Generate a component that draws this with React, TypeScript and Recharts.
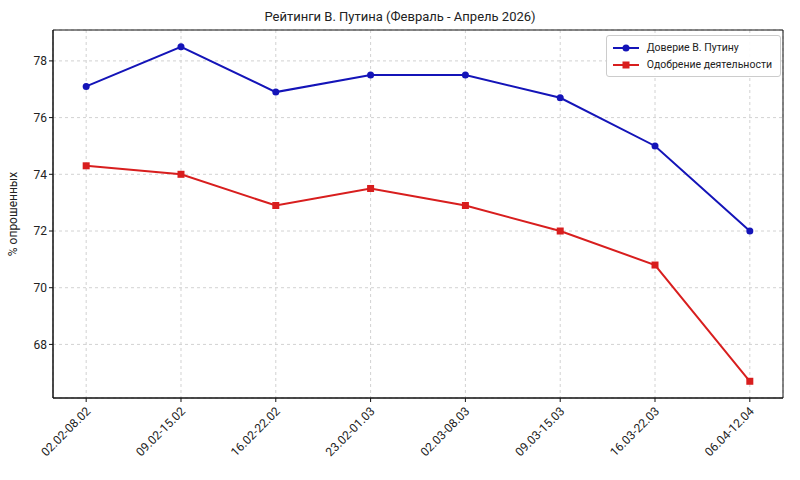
import {
  CartesianGrid,
  Line,
  LineChart,
  ReferenceArea,
  XAxis,
  YAxis,
} from "recharts";

const periods = [
  "02.02-08.02",
  "09.02-15.02",
  "16.02-22.02",
  "23.02-01.03",
  "02.03-08.03",
  "09.03-15.03",
  "16.03-22.03",
  "06.04-12.04",
];
const trust = [77.1, 78.5, 76.9, 77.5, 77.5, 76.7, 75.0, 72.0];
const approval = [74.3, 74.0, 72.9, 73.5, 72.9, 72.0, 70.8, 66.7];
const yTicks = [68, 70, 72, 74, 76, 78];

const BLUE = "#1414b8";
const RED = "#d81e1e";
const FONT = "Roboto, 'Open Sans', sans-serif";
const X_DOMAIN: [number, number] = [-0.35, 7.35];
const Y_DOMAIN: [number, number] = [66.11, 79.09];

const data = periods.map((p, i) => ({
  i,
  period: p,
  trust: trust[i],
  approval: approval[i],
}));

function XTick(props: any) {
  const { x, y, payload } = props;
  return (
    <text
      x={x + 5}
      y={y + 8}
      textAnchor="end"
      fontSize={12}
      fill="#222"
      fontFamily={FONT}
      transform={`rotate(-45 ${x + 5} ${y + 8})`}
    >
      {periods[payload.value]}
    </text>
  );
}

function LegendBox() {
  const items = [
    { name: "Доверие В. Путину", color: BLUE, shape: "circle" },
    { name: "Одобрение деятельности", color: RED, shape: "square" },
  ];
  return (
    <div
      style={{
        position: "absolute",
        top: 35,
        right: 19,
        border: "1px solid #ccc",
        borderRadius: 3,
        background: "rgba(255,255,255,0.9)",
        padding: "3px 8px 3px 6px",
        fontFamily: FONT,
        fontSize: 10.5,
        color: "#222",
      }}
    >
      {items.map((it) => (
        <div key={it.name} style={{ display: "flex", alignItems: "center", height: 17 }}>
          <svg width={26} height={10} style={{ marginRight: 8 }}>
            <line x1={0} y1={5} x2={26} y2={5} stroke={it.color} strokeWidth={2} />
            {it.shape === "circle" ? (
              <circle cx={13} cy={5} r={3.5} fill={it.color} />
            ) : (
              <rect x={9.5} y={1.5} width={7} height={7} fill={it.color} />
            )}
          </svg>
          {it.name}
        </div>
      ))}
    </div>
  );
}

function Square(props: any) {
  const { cx, cy } = props;
  if (cx == null || cy == null) return null;
  return <rect x={cx - 3.5} y={cy - 3.5} width={7} height={7} fill={RED} />;
}

export default function App() {
  return (
    <div style={{ position: "absolute", left: 0, top: 0, width: 800, height: 480, background: "#fff" }}>
      <div
        style={{
          position: "absolute",
          top: 9,
          left: 0,
          width: 800,
          textAlign: "center",
          fontFamily: FONT,
          fontSize: 13,
          color: "#222",
        }}
      >
        Рейтинги В. Путина (Февраль - Апрель 2026)
      </div>
      <LineChart
        width={800}
        height={480}
        data={data}
        margin={{ top: 30, right: 17, bottom: 0, left: 0 }}
      >
        <CartesianGrid stroke="#d2d2d2" strokeDasharray="3 3" />
        <XAxis
          dataKey="i"
          type="number"
          domain={X_DOMAIN}
          ticks={[0, 1, 2, 3, 4, 5, 6, 7]}
          tick={<XTick />}
          tickSize={4}
          height={82}
          stroke="#111"
          interval={0}
          allowDataOverflow
        />
        <YAxis
          domain={Y_DOMAIN}
          ticks={yTicks}
          tickSize={4}
          width={53}
          stroke="#111"
          allowDataOverflow
          tick={{ fontSize: 12, fill: "#222", fontFamily: FONT }}
          label={{
            value: "% опрошенных",
            angle: -90,
            position: "insideLeft",
            dx: 8,
            style: { textAnchor: "middle", fontSize: 12, fill: "#222", fontFamily: FONT },
          }}
        />
        <ReferenceArea
          x1={X_DOMAIN[0]}
          x2={X_DOMAIN[1]}
          y1={Y_DOMAIN[0]}
          y2={Y_DOMAIN[1]}
          fill="none"
          stroke="#111"
          strokeWidth={1}
          ifOverflow="visible"
        />
        <Line
          dataKey="trust"
          stroke={BLUE}
          strokeWidth={2}
          dot={{ r: 3.5, fill: BLUE, stroke: BLUE, strokeWidth: 0 }}
          isAnimationActive={false}
        />
        <Line
          dataKey="approval"
          stroke={RED}
          strokeWidth={2}
          dot={<Square />}
          isAnimationActive={false}
        />
      </LineChart>
      <LegendBox />
    </div>
  );
}
